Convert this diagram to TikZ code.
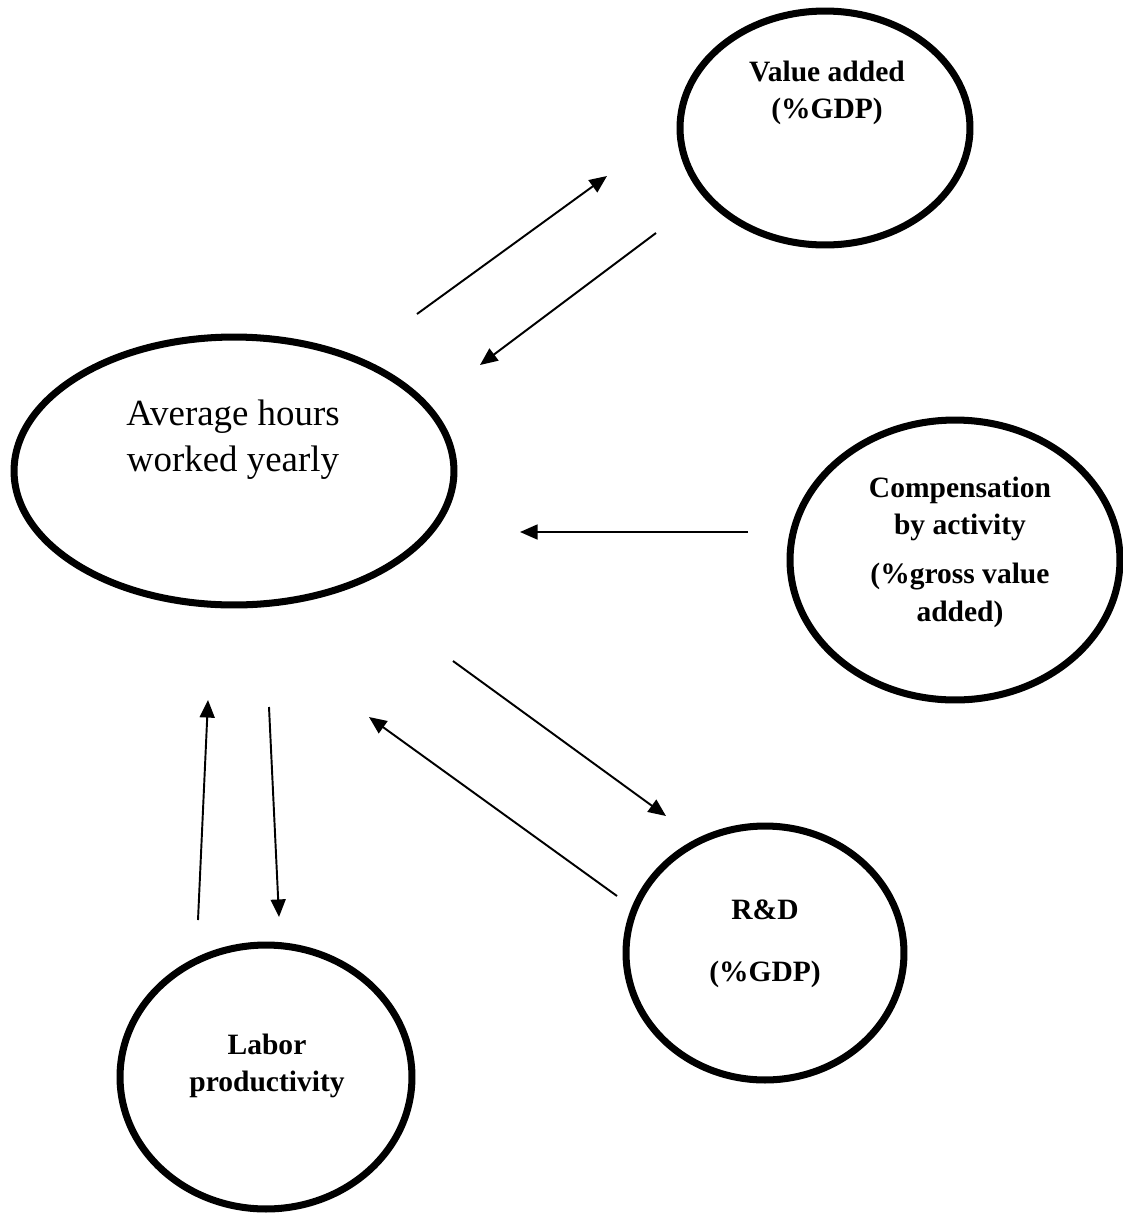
\documentclass[tikz,border=0pt]{standalone}
\usepackage{fontspec}
\setmainfont{Liberation Serif}
\usetikzlibrary{shapes.geometric,arrows.meta}

\tikzset{
    bubble/.style={ellipse, draw, line width=4pt, inner sep=0pt},
    bigtext/.style={align=center, font=\fontsize{21}{26}\selectfont},
    boldtext/.style={align=center, font=\fontsize{16.8}{21.5}\selectfont\bfseries},
    link/.style={line width=1.1pt, -{Triangle[length=10pt,width=8.5pt]}}
}

\begin{document}
\begin{tikzpicture}[x=0.02cm, y=-0.02cm]
    \useasboundingbox (0,0) rectangle (1123,1215);

    % ellipses
    \draw(234,471) node[bubble, minimum width=8.8cm, minimum height=5.36cm] (avg) {};
    \draw(825,128) node[bubble, minimum width=5.8cm, minimum height=4.68cm] (va) {};
    \draw(955,560) node[bubble, minimum width=6.6cm, minimum height=5.6cm] (comp) {};
    \draw(765,953) node[bubble, minimum width=5.56cm, minimum height=5.08cm] (rd) {};
    \draw(266,1077) node[bubble, minimum width=5.84cm, minimum height=5.28cm] (lab) {};

    % labels
    \draw(233,440) node[bigtext] (avgtext) {Average hours\\worked yearly};
    \draw(827,93) node[boldtext] (vatext) {Value added\\(\%GDP)};
    \draw(960,552) node[boldtext] (comptext) {Compensation\\by activity\\[6pt](\%gross value\\added)};
    \draw(765,944) node[boldtext] (rdtext) {R\&D\\[14pt](\%GDP)};
    \draw(267,1066) node[boldtext] (labtext) {Labor\\productivity};

    % arrow ends
    \coordinate (avgva) at (417,314);
    \coordinate (vaend) at (607,176);
    \coordinate (vaavg) at (656,233);
    \coordinate (avgend1) at (480,365);
    \coordinate (compavg) at (748,532);
    \coordinate (avgend2) at (520,532);
    \coordinate (avgrd) at (453,661);
    \coordinate (rdend) at (666,816);
    \coordinate (rdavg) at (617,896);
    \coordinate (avgend3) at (369,717);
    \coordinate (labavg) at (198,920);
    \coordinate (avgend4) at (208,700);
    \coordinate (avglab) at (269,707);
    \coordinate (labend) at (279,917);

    \draw[link] (avgva) -- (vaend);
    \draw[link] (vaavg) -- (avgend1);
    \draw[link] (compavg) -- (avgend2);
    \draw[link] (avgrd) -- (rdend);
    \draw[link] (rdavg) -- (avgend3);
    \draw[link] (labavg) -- (avgend4);
    \draw[link] (avglab) -- (labend);

\end{tikzpicture}
\end{document}
